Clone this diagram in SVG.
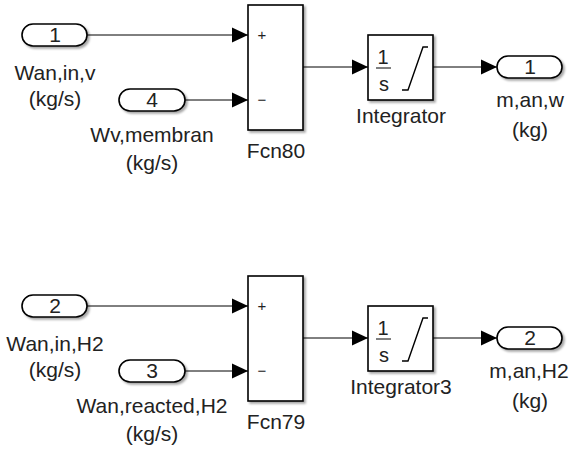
<svg xmlns="http://www.w3.org/2000/svg" width="569" height="450" viewBox="0 0 569 450">
<defs>
<filter id="sh" x="-20%" y="-20%" width="150%" height="150%">
<feDropShadow dx="2" dy="2" stdDeviation="1.2" flood-color="#000" flood-opacity="0.35"/>
</filter>
<marker id="arr" markerWidth="16" markerHeight="16" refX="16" refY="8" orient="auto" markerUnits="userSpaceOnUse">
<path d="M0,0.5 L16,8 L0,15.5 Z" fill="#000"/>
</marker>
<style>
.blk{fill:#fff;stroke:#000;stroke-width:1.6;filter:url(#sh)}
.ln{fill:none;stroke:#000;stroke-width:1}
.t{font-family:"Liberation Sans",Arial,Helvetica,sans-serif;font-size:21px;fill:#222;text-anchor:middle}
.s{font-family:"Liberation Sans",Arial,sans-serif;font-size:15px;fill:#222;text-anchor:middle}
.f{font-family:"Liberation Sans",Arial,sans-serif;font-size:20px;fill:#222;text-anchor:middle}
.ic{fill:none;stroke:#000;stroke-width:1.4}
</style>
</defs>
<rect width="569" height="450" fill="#fff"/>
<g id="connectors">
<path class="ln" d="M87,35 H248" marker-end="url(#arr)"/>
<path class="ln" d="M185,100 H248" marker-end="url(#arr)"/>
<path class="ln" d="M303,67 H368" marker-end="url(#arr)"/>
<path class="ln" d="M433,67 H497" marker-end="url(#arr)"/>
<path class="ln" d="M87,306 H248" marker-end="url(#arr)"/>
<path class="ln" d="M185,371 H248" marker-end="url(#arr)"/>
<path class="ln" d="M303,338 H368" marker-end="url(#arr)"/>
<path class="ln" d="M433,338 H497" marker-end="url(#arr)"/>
</g>
<g id="in1">
<rect class="blk" x="22" y="24" width="65" height="22" rx="11"/>
<text class="t" x="55" y="42">1</text>
<text class="t" x="55" y="80">Wan,in,v</text>
<text class="t" x="55" y="106">(kg/s)</text>
</g>
<g id="in4">
<rect class="blk" x="119" y="89" width="66" height="22" rx="11"/>
<text class="t" x="152" y="107">4</text>
<text class="t" x="152" y="142">Wv,membran</text>
<text class="t" x="152" y="170">(kg/s)</text>
</g>
<g id="fcn80">
<rect class="blk" x="248" y="5" width="55" height="125"/>
<text class="s" x="262" y="40">+</text>
<text class="s" x="262" y="105">−</text>
<text class="t" x="276" y="158">Fcn80</text>
</g>
<g id="integrator">
<rect class="blk" x="368" y="35" width="65" height="65"/>
<text class="f" x="383" y="64">1</text>
<path class="ic" d="M376,68 H391" style="stroke-width:1"/>
<text class="f" x="384" y="91">s</text>
<path class="ic" d="M402,90 H408 L423,47 H428"/>
<text class="t" x="401" y="123">Integrator</text>
</g>
<g id="out1">
<rect class="blk" x="497" y="56" width="65" height="22" rx="11"/>
<text class="t" x="530" y="74">1</text>
<text class="t" x="530" y="107">m,an,w</text>
<text class="t" x="530" y="137">(kg)</text>
</g>
<g id="in2">
<rect class="blk" x="22" y="295" width="65" height="22" rx="11"/>
<text class="t" x="55" y="313">2</text>
<text class="t" x="55" y="351">Wan,in,H2</text>
<text class="t" x="55" y="377">(kg/s)</text>
</g>
<g id="in3">
<rect class="blk" x="119" y="360" width="66" height="22" rx="11"/>
<text class="t" x="152" y="378">3</text>
<text class="t" x="152" y="413">Wan,reacted,H2</text>
<text class="t" x="152" y="441">(kg/s)</text>
</g>
<g id="fcn79">
<rect class="blk" x="248" y="276" width="55" height="125"/>
<text class="s" x="262" y="311">+</text>
<text class="s" x="262" y="376">−</text>
<text class="t" x="276" y="429">Fcn79</text>
</g>
<g id="integrator3">
<rect class="blk" x="368" y="306" width="65" height="65"/>
<text class="f" x="383" y="335">1</text>
<path class="ic" d="M376,339 H391" style="stroke-width:1"/>
<text class="f" x="384" y="362">s</text>
<path class="ic" d="M402,361 H408 L423,318 H428"/>
<text class="t" x="401" y="394">Integrator3</text>
</g>
<g id="out2">
<rect class="blk" x="497" y="327" width="65" height="22" rx="11"/>
<text class="t" x="530" y="345">2</text>
<text class="t" x="529" y="378">m,an,H2</text>
<text class="t" x="530" y="408">(kg)</text>
</g>
</svg>
